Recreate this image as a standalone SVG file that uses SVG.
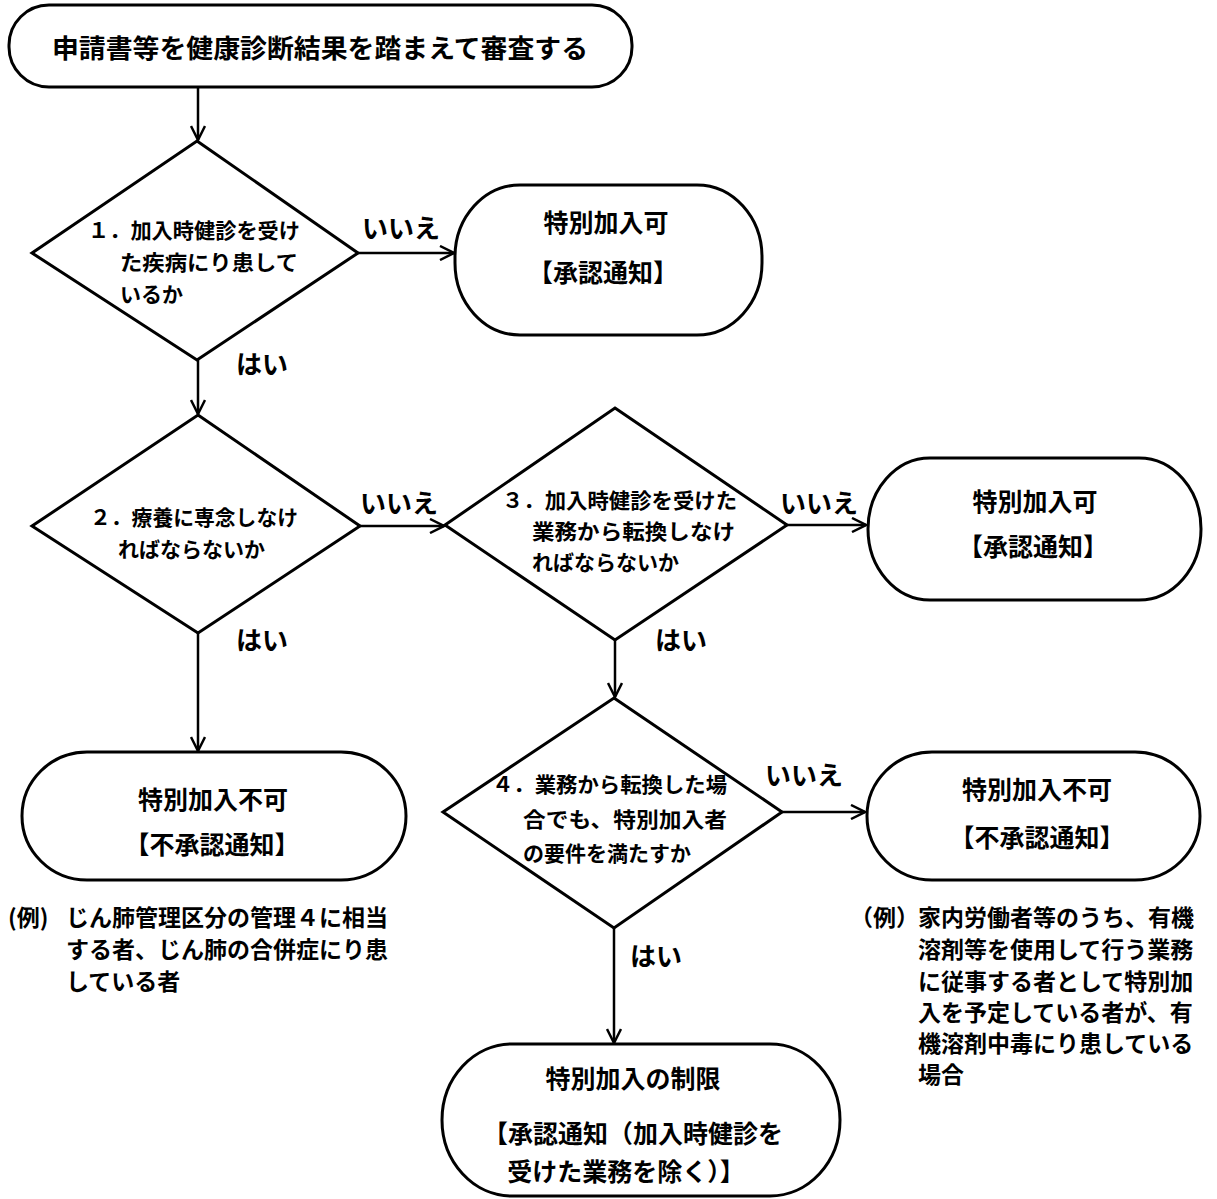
<svg xmlns="http://www.w3.org/2000/svg" width="1217" height="1199" viewBox="0 0 1217 1199">
<defs>
<marker id="arr" viewBox="0 0 16 16" refX="15" refY="8" markerWidth="16" markerHeight="16" markerUnits="userSpaceOnUse" orient="auto">
<path d="M1,1 L15,8 L1,15" fill="none" stroke="#000" stroke-width="2.5"/>
</marker>
<style>
.s{fill:#fff;stroke:#000;stroke-width:3}
.c{fill:none;stroke:#000;stroke-width:2.5;marker-end:url(#arr)}
text{font-family:"Noto Sans CJK JP","Noto Sans",sans-serif;font-weight:bold;fill:#000}
.n{font-size:25px;text-anchor:middle}
.d{font-size:21px}
.l{font-size:26px}
.e{font-size:23px}
</style>
</defs>
<rect width="1217" height="1199" fill="#fff"/>
<g id="connectors">
<line class="c" x1="198" y1="87" x2="198" y2="140"/>
<line class="c" x1="358" y1="253" x2="454" y2="253"/>
<line class="c" x1="198" y1="360" x2="198" y2="414"/>
<line class="c" x1="360" y1="526" x2="444" y2="526"/>
<line class="c" x1="787" y1="525" x2="866" y2="525"/>
<line class="c" x1="198" y1="633" x2="198" y2="751"/>
<line class="c" x1="615" y1="640" x2="615" y2="697"/>
<line class="c" x1="782" y1="812" x2="865" y2="812"/>
<line class="c" x1="614" y1="928" x2="614" y2="1043"/>
<text class="l" x="362" y="238">いいえ</text>
<text class="l" x="236" y="374">はい</text>
<text class="l" x="360" y="513">いいえ</text>
<text class="l" x="236" y="650">はい</text>
<text class="l" x="780" y="513">いいえ</text>
<text class="l" x="655" y="650">はい</text>
<text class="l" x="765" y="785">いいえ</text>
<text class="l" x="630" y="966">はい</text>
</g>
<g id="start">
<rect class="s" x="9" y="5" width="623" height="82" rx="40" ry="40"/>
<text x="52" y="58" font-size="26" textLength="536" lengthAdjust="spacingAndGlyphs">申請書等を健康診断結果を踏まえて審査する</text>
</g>
<g id="q1">
<polygon class="s" points="197,141 358,253 197,360 32,253"/>
<text class="d" x="88" y="238" textLength="212" lengthAdjust="spacingAndGlyphs">１．加入時健診を受け</text>
<text class="d" x="120" y="270" textLength="178" lengthAdjust="spacingAndGlyphs">た疾病にり患して</text>
<text class="d" x="120" y="302">いるか</text>
</g>
<g id="ok1">
<rect class="s" x="455" y="185" width="307" height="150" rx="65" ry="72"/>
<text class="n" x="606" y="232">特別加入可</text>
<text class="n" x="603" y="282">【承認通知】</text>
</g>
<g id="q2">
<polygon class="s" points="198,415 360,526 198,633 32,526"/>
<text class="d" x="90" y="525" textLength="208" lengthAdjust="spacingAndGlyphs">２．療養に専念しなけ</text>
<text class="d" x="118" y="557">ればならないか</text>
</g>
<g id="q3">
<polygon class="s" points="615,408 787,525 615,640 445,525"/>
<text class="d" x="502" y="508" textLength="235" lengthAdjust="spacingAndGlyphs">３．加入時健診を受けた</text>
<text class="d" x="532" y="539" textLength="203" lengthAdjust="spacingAndGlyphs">業務から転換しなけ</text>
<text class="d" x="532" y="570">ればならないか</text>
</g>
<g id="ok2">
<rect class="s" x="868" y="458" width="333" height="142" rx="62" ry="71"/>
<text class="n" x="1035" y="511">特別加入可</text>
<text class="n" x="1033" y="556">【承認通知】</text>
</g>
<g id="ng1">
<rect class="s" x="22" y="752" width="384" height="128" rx="65" ry="64"/>
<text class="n" x="213" y="809">特別加入不可</text>
<text class="n" x="212" y="854">【不承認通知】</text>
</g>
<g id="note1">
<text class="e" y="926"><tspan x="8">(例)</tspan><tspan x="66">じん肺管理区分の管理４に相当</tspan></text>
<text class="e" x="66" y="958">する者、じん肺の合併症にり患</text>
<text class="e" x="66" y="990">している者</text>
</g>
<g id="q4">
<polygon class="s" points="614,698 782,812 614,928 443,812"/>
<text class="d" x="492" y="792" textLength="235" lengthAdjust="spacingAndGlyphs">４．業務から転換した場</text>
<text class="d" x="523" y="827" textLength="204" lengthAdjust="spacingAndGlyphs">合でも、特別加入者</text>
<text class="d" x="523" y="861">の要件を満たすか</text>
</g>
<g id="ng2">
<rect class="s" x="867" y="752" width="333" height="128" rx="65" ry="64"/>
<text class="n" x="1037" y="799">特別加入不可</text>
<text class="n" x="1037" y="847">【不承認通知】</text>
</g>
<g id="note2">
<text class="e" y="926"><tspan x="850">（例）</tspan><tspan x="918">家内労働者等のうち、有機</tspan></text>
<text class="e" x="918" y="958">溶剤等を使用して行う業務</text>
<text class="e" x="918" y="990">に従事する者として特別加</text>
<text class="e" x="918" y="1021">入を予定している者が、有</text>
<text class="e" x="918" y="1052">機溶剤中毒にり患している</text>
<text class="e" x="918" y="1083">場合</text>
</g>
<g id="limit">
<rect class="s" x="442" y="1044" width="398" height="152" rx="70" ry="76"/>
<text class="n" x="633" y="1088">特別加入の制限</text>
<text class="n" x="633" y="1143">【承認通知（加入時健診を</text>
<text class="n" x="626" y="1181">受けた業務を除く）】</text>
</g>
</svg>
